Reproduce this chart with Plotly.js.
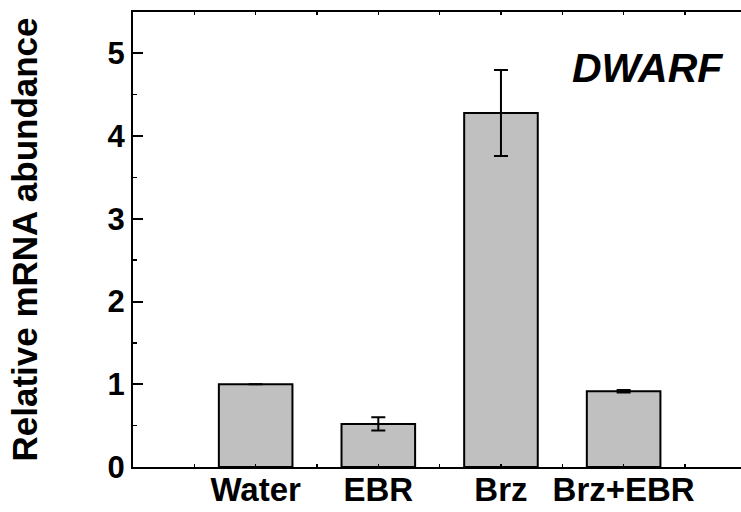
<!DOCTYPE html>
<html>
<head>
<meta charset="utf-8">
<script src="https://cdn.plot.ly/plotly-3.0.1.min.js"></script>
<style>html,body{margin:0;padding:0;background:#fff;}#chart{width:741px;height:512px;}</style>
</head>
<body>
<div id="chart"></div>
<script>
var categories = ["Water", "EBR", "Brz", "Brz+EBR"];
var positions = [1, 2, 3, 4];
var values = [1.0, 0.52, 4.28, 0.915];
var errors = [null, 0.08, 0.52, 0.015];
var geneLabel = "DWARF";
var yTitle = "Relative mRNA abundance";

var font = "Liberation Sans, Arial, Helvetica, sans-serif";

var trace = {
  type: "bar",
  x: positions,
  y: values,
  width: 0.6,
  marker: {color: "#c0c0c0", line: {color: "#000", width: 2}},
  error_y: {type: "data", array: errors, visible: true, color: "#000", thickness: 2, width: 7},
  hoverinfo: "none"
};

var layout = {
  width: 741, height: 512,
  margin: {l: 133, r: 0, t: 12, b: 45, pad: 0},
  paper_bgcolor: "#fff", plot_bgcolor: "#fff",
  showlegend: false,
  xaxis: {
    range: [0, 4.957],
    tickmode: "array",
    tickvals: positions,
    ticktext: categories,
    ticks: "inside", ticklen: 3, tickwidth: 1.5, tickcolor: "#000",
    minor: {dtick: 0.5, tick0: 0, ticks: "inside", ticklen: 3, tickwidth: 1.5, tickcolor: "#000"},
    showline: true, linecolor: "#000", linewidth: 2, mirror: "ticks",
    showgrid: false, zeroline: false,
    tickfont: {family: font, size: 33, color: "#000", weight: "bold"},
    ticklabelstandoff: -8
  },
  yaxis: {
    range: [0, 5.5],
    tick0: 0, dtick: 1,
    ticks: "inside", ticklen: 10, tickwidth: 2, tickcolor: "#000",
    minor: {dtick: 0.5, tick0: 0, ticks: "inside", ticklen: 4, tickwidth: 1.5, tickcolor: "#000"},
    showline: true, linecolor: "#000", linewidth: 2, mirror: false,
    showgrid: false, zeroline: false,
    tickfont: {family: font, size: 31, color: "#000", weight: "bold"},
    ticklabelstandoff: 0,
    title: {text: yTitle, font: {family: font, size: 35, color: "#000", weight: "bold"}, standoff: 59}
  },
  annotations: [{
    text: geneLabel, xref: "paper", yref: "paper",
    x: (647.5 - 133) / 608, y: (466.7 - 68) / 455,
    xanchor: "center", yanchor: "middle", showarrow: false,
    font: {family: font, size: 41, color: "#000", weight: "bold", style: "italic"}
  }]
};

Plotly.newPlot("chart", [trace], layout, {displayModeBar: false, staticPlot: true});
</script>
</body>
</html>
